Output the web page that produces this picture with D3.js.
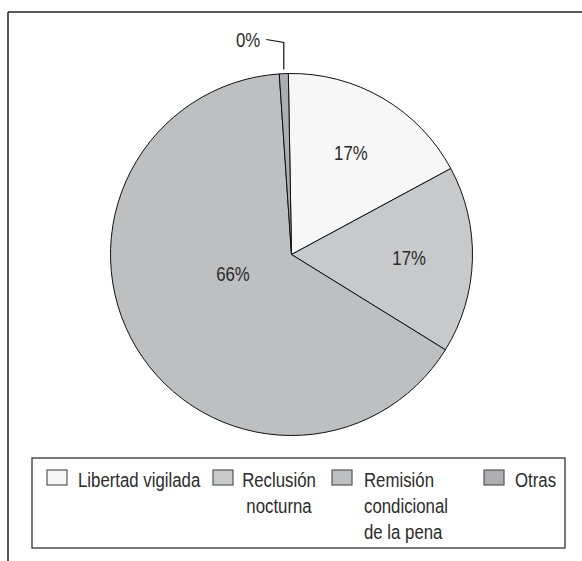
<!DOCTYPE html>
<html>
<head>
<meta charset="utf-8">
<script src="https://cdn.jsdelivr.net/npm/d3@7"></script>
<style>
  html, body { margin: 0; padding: 0; background: #fff; }
  svg { display: block; }
  text { font-family: "Liberation Sans", Arial, sans-serif; fill: #2b2b2b; }
</style>
</head>
<body>
<svg id="chart" width="582" height="561"></svg>
<script>
// ---- data ----
const categories = ["Libertad vigilada", "Reclusión nocturna", "Remisión condicional de la pena", "Otras"];
const values = [17.4, 16.7, 65.1, 0.8];
const pctLabels = ["17%", "17%", "66%", "0%"];
const legendLines = [["Libertad vigilada"], ["Reclusión", "nocturna"], ["Remisión", "condicional", "de la pena"], ["Otras"]];
const colors = ["#f6f7f6", "#c8c9cb", "#bebfc1", "#acaeb1"];

// ---- layout ----
const W = 582, H = 561;
const cx = 291.5, cy = 254.5, R = 181;
const SX = 0.8; // condensed type
const fontSize = 21;
const startOffset = -1.0 * Math.PI / 180;

const svg = d3.select("#chart");

// frame (top and left rules)
svg.append("line").attr("x1", 8).attr("y1", 12).attr("x2", W).attr("y2", 12)
  .attr("stroke", "#222").attr("stroke-width", 1.5);
svg.append("line").attr("x1", 8).attr("y1", 12).attr("x2", 8).attr("y2", H)
  .attr("stroke", "#222").attr("stroke-width", 1.5);

const data = categories.map((c, i) => ({ cat: c, value: values[i], label: pctLabels[i], color: colors[i] }));

const pie = d3.pie().sort(null).value(d => d.value)
  .startAngle(startOffset).endAngle(startOffset + 2 * Math.PI);
const arcs = pie(data);
const arc = d3.arc().innerRadius(0).outerRadius(R);

const g = svg.append("g").attr("transform", `translate(${cx},${cy})`);
g.selectAll("path.slice").data(arcs).enter().append("path")
  .attr("class", "slice")
  .attr("d", arc)
  .attr("fill", d => d.data.color)
  .attr("stroke", "#111")
  .attr("stroke-width", 1)
  .attr("stroke-linejoin", "round");

function condText(parent, x, y, txt, anchor) {
  const t = parent.append("g").attr("transform", `translate(${x},${y}) scale(${SX},1)`);
  t.append("text").attr("x", 0).attr("y", 0)
    .attr("text-anchor", anchor || "start")
    .attr("font-size", fontSize)
    .text(txt);
  return t;
}

// percentage labels
const total = d3.sum(values);
arcs.forEach(a => {
  const frac = a.data.value / total;
  let ang = (a.startAngle + a.endAngle) / 2;
  let r;
  if (frac < 0.02) {
    // outside label with leader line
    const px = Math.sin(ang) * R;
    const elbowY = -R - 31;
    const endX = px - 17.5, endY = elbowY - 3;
    g.append("path")
      .attr("d", `M${px},${-R - 4}L${px},${elbowY}L${endX},${endY}`)
      .attr("fill", "none").attr("stroke", "#111").attr("stroke-width", 1.2);
    condText(g, endX - 6, endY + 7.3, a.data.label, "end");
    return;
  } else if (frac > 0.5) {
    r = R * 0.34; ang = ang + 13 * Math.PI / 180;
  } else {
    r = R * 0.65;
  }
  const x = Math.sin(ang) * r, y = -Math.cos(ang) * r;
  condText(g, x, y + 7.3, a.data.label, "middle");
});

// legend
const legX = 32, legY = 458, legW = 533, legH = 90;
svg.append("rect").attr("x", legX).attr("y", legY).attr("width", legW).attr("height", legH)
  .attr("fill", "#fff").attr("stroke", "#333").attr("stroke-width", 1.3);

const boxX = [47, 213, 332, 484];
const textX = [78, 279, 364, 515];
const anchors = ["start", "middle", "start", "start"];
const boxY = 470, boxW = 20, boxH = 15;
const baseY = 486.5, lineH = 26;

data.forEach((d, i) => {
  svg.append("rect").attr("x", boxX[i]).attr("y", boxY).attr("width", boxW).attr("height", boxH)
    .attr("fill", d.color).attr("stroke", "#555").attr("stroke-width", 1.2);
  legendLines[i].forEach((ln, j) => {
    condText(svg, textX[i], baseY + j * lineH, ln, anchors[i]);
  });
});
</script>
</body>
</html>
